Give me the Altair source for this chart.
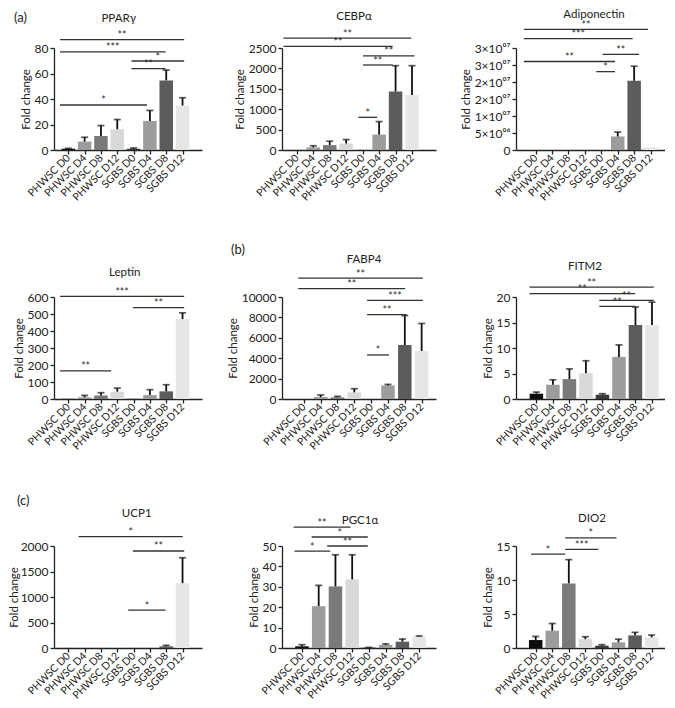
import altair as alt
import pandas as pd

groups = ["PHWSC D0", "PHWSC D4", "PHWSC D8", "PHWSC D12",
          "SGBS D0", "SGBS D4", "SGBS D8", "SGBS D12"]

# mean fold change and SD (upper error) per group
pparg_mean = [1.0, 6.6, 11.0, 16.3, 1.0, 22.8, 54.6, 34.9]
pparg_err = [0.3, 3.4, 8.2, 7.6, 0.6, 8.2, 8.1, 6.1]
cebpa_mean = [1, 64, 120, 160, 1, 377, 1434, 1346]
cebpa_err = [0, 40, 96, 96, 0, 320, 633, 721]
adipoq_mean = [1, 1, 1, 1, 1, 3.97e6, 2.036e7, 7.9e5]
adipoq_err = [0, 0, 0, 0, 0, 1.29e6, 4.28e6, 0]
leptin_mean = [1, 10, 21, 43, 1, 23, 45, 470]
leptin_err = [0, 11, 16, 21, 0, 32, 39, 37]
fabp4_mean = [1, 195, 162, 650, 1, 1331, 5292, 4708]
fabp4_err = [0, 195, 98, 356, 0, 99, 2890, 2695]
fitm2_mean = [1.04, 2.8, 3.9, 5.06, 0.84, 8.25, 14.5, 14.5]
fitm2_err = [0.32, 0.97, 2.0, 2.44, 0.2, 2.35, 3.55, 4.5]
ucp1_mean = [1, 1, 1, 1, 1, 1, 33, 1272]
ucp1_err = [0, 0, 0, 0, 0, 0, 19, 498]
pgc1a_mean = [0.82, 20.5, 30.2, 33.6, 0.2, 1.5, 3.1, 5.6]
pgc1a_err = [0.8, 10.2, 15.5, 12.1, 0.1, 0.5, 1.3, 0.3]
dio2_mean = [1.17, 2.54, 9.5, 1.3, 0.34, 0.83, 1.86, 1.56]
dio2_err = [0.53, 1.06, 3.5, 0.36, 0.15, 0.47, 0.44, 0.34]

# significance brackets: (from group index, to group index, level, label)
pparg_sig = [(-0.51, 7.1, 86.5, "**"), (-0.51, 5.96, 76.9, "***"),
             (3.87, 7.1, 69.8, "*"), (3.87, 5.96, 63.8, "**"),
             (-0.51, 4.82, 35.3, "*")]
cebpa_sig = [(-0.81, 6.96, 2740, "**"), (-0.81, 5.82, 2540, "**"),
             (4.02, 7.15, 2308, "**"), (4.02, 5.82, 2083, "**"),
             (3.74, 4.88, 801, "*")]
adipoq_sig = [(-0.72, 6.85, 3.546e7, "**"), (-0.72, 5.91, 3.278e7, "***"),
              (4.07, 6.3, 2.811e7, "**"), (-0.72, 4.83, 2.603e7, "**"),
              (3.69, 4.83, 2.305e7, "*")]
leptin_sig = [(-0.51, 7.1, 604, "***"), (3.96, 7.1, 538, "**"),
              (-0.51, 2.63, 166, "**")]
fabp4_sig = [(-0.33, 7.07, 11851, "**"), (-0.33, 6.02, 10812, "**"),
             (3.76, 7.07, 9675, "***"), (3.76, 6.11, 8279, "**"),
             (3.76, 5.06, 4318, "*")]
fitm2_sig = [(-0.42, 7.11, 21.95, "**"), (-0.42, 5.98, 20.65, "**"),
             (3.81, 7.11, 19.35, "**"), (3.81, 5.98, 18.18, "**")]
ucp1_sig = [(0.63, 7.01, 2184, "*"), (3.96, 7.1, 1902, "**"),
            (3.67, 5.96, 741, "*")]
pgc1a_sig = [(-0.5, 2.9, 59.3, "**"), (0.58, 3.93, 54.4, "*"),
             (1.51, 3.93, 50.0, "**"), (-0.45, 1.69, 47.5, "*")]
dio2_sig = [(1.78, 4.88, 16.2, "*"), (1.78, 3.79, 14.5, "***"),
            (-0.28, 1.78, 13.8, "*")]

adipoq_tick_labels = ["0", "5×10⁰⁶", "1×10⁰⁷", "2×10⁰⁷", "2×10⁰⁷", "3×10⁰⁷", "3×10⁰⁷"]

# ---- styles ----
bar_colors = ["#0d0d0d", "#9c9c9c", "#7a7a7a", "#d9d9d9",
              "#3a3a3a", "#9c9c9c", "#5c5c5c", "#e6e6e6"]
FONT = "Lato"
TXT = "#222222"
LINE = "#222222"
H = 102


def make_panel(title, means, errs, sig, ymax, ystep, xdom, width, tpos,
               ylabels=None, title_pad=3, letter=None):
    bars_df = pd.DataFrame({"group": groups, "xpos": list(range(len(groups))),
                            "yval": means, "err": errs})
    sig_df = pd.DataFrame(sig, columns=["xpos", "xend", "yval", "label"])
    sig_df["xmid"] = (sig_df["xpos"] + sig_df["xend"]) / 2

    n = int(round(ymax / ystep))
    yticks = [i * ystep for i in range(n + 1)]
    names = "[" + ",".join("'" + g + "'" for g in groups) + "]"

    xscale = alt.Scale(domain=xdom, nice=False, zero=False)
    yscale = alt.Scale(domain=[0, ymax], nice=False, zero=True)
    xaxis = alt.Axis(values=list(range(len(groups))),
                     labelExpr=names + "[round(datum.value)]",
                     title=None, labelAngle=-45, labelAlign="right",
                     labelBaseline="middle", labelFlush=False, labelOverlap=False,
                     grid=False, tickSize=4, labelPadding=2, labelFontSize=10.5,
                     labelFont=FONT, labelColor=TXT, domainColor=LINE,
                     tickColor=LINE, domainWidth=1.3, tickWidth=1.3)
    yargs = dict(values=yticks, title="Fold change", grid=False, tickSize=4,
                 labelPadding=2, labelFontSize=12, labelFont=FONT, labelColor=TXT,
                 labelFlush=False, labelOverlap=False,
                 titleFont=FONT, titleFontSize=11.5, titleFontWeight="normal",
                 titleColor=TXT, titlePadding=title_pad, domainColor=LINE,
                 tickColor=LINE, domainWidth=1.3, tickWidth=1.3)
    if ylabels is not None:
        arr = "[" + ",".join("'" + s + "'" for s in ylabels) + "]"
        yargs["labelExpr"] = arr + "[round(datum.value/" + str(ystep) + ")]"
    else:
        yargs["format"] = "d"
    yaxis = alt.Axis(**yargs)

    def X(f):
        return alt.X(f + ":Q", scale=xscale, axis=xaxis)

    def Y(f):
        return alt.Y(f + ":Q", scale=yscale, axis=yaxis)

    bars = alt.Chart(bars_df).mark_bar(size=13.5).encode(
        x=X("xpos"), y=Y("yval"),
        color=alt.Color("group:N", scale=alt.Scale(domain=groups, range=bar_colors),
                        legend=None))
    errbase = alt.Chart(bars_df).transform_filter("datum.err > 0").transform_calculate(
        top="datum.yval + datum.err")
    err = errbase.mark_rule(strokeWidth=1.8, color="#111111").encode(
        x=X("xpos"), y=Y("yval"), y2="top:Q")
    cap = errbase.mark_tick(orient="horizontal", size=7, thickness=1.7,
                            color="#111111").encode(x=X("xpos"), y=Y("top"))
    sigl = alt.Chart(sig_df).mark_rule(strokeWidth=1.3, color="#333333").encode(
        x=X("xpos"), x2="xend:Q", y=Y("yval"))
    sigt = alt.Chart(sig_df).mark_text(font=FONT, fontSize=10.5, color="#333333",
                                       baseline="alphabetic", dy=-0.5).encode(
        x=X("xmid"), y=Y("yval"), text="label:N")
    ttl = alt.Chart(pd.DataFrame({"t": [title]})).mark_text(
        font=FONT, fontSize=11.5, color=TXT, baseline="middle", align="center").encode(
        x=alt.value(tpos[0]), y=alt.value(tpos[1]), text="t:N")
    layers = [bars, err, cap, sigl, sigt, ttl]
    if letter is not None:
        lt = alt.Chart(pd.DataFrame({"t": [letter[0]]})).mark_text(
            font=FONT, fontSize=13, color=TXT, baseline="middle", align="center").encode(
            x=alt.value(letter[1]), y=alt.value(letter[2]), text="t:N")
        layers.append(lt)
    return alt.layer(*layers).properties(width=width, height=H)


W1, W2, W3 = 148, 154, 149

panels = [
    make_panel("PPARγ", pparg_mean, pparg_err, pparg_sig, 80, 20,
               [-0.571, 7.886], W1, (64.7, -29), letter=("(a)", -33.5, -30)),
    make_panel("CEBPα", cebpa_mean, cebpa_err, cebpa_sig, 2500, 500,
               [-0.597, 8.153], W2, (72, -31)),
    make_panel("Adiponectin", adipoq_mean, adipoq_err, adipoq_sig, 3e7, 5000000,
               [-0.892, 7.574], W3, (78, -33), ylabels=adipoq_tick_labels),
    make_panel("Leptin", leptin_mean, leptin_err, leptin_sig, 600, 100,
               [-0.571, 7.886], W1, (70.7, -24)),
    make_panel("FABP4", fabp4_mean, fabp4_err, fabp4_sig, 10000, 2000,
               [-1.0, 7.556], W2, (82, -37), letter=("(b)", -44, -47)),
    make_panel("FITM2", fitm2_mean, fitm2_err, fitm2_sig, 20, 5,
               [-0.932, 7.486], W3, (69, -30)),
    make_panel("UCP1", ucp1_mean, ucp1_err, ucp1_sig, 2000, 500,
               [-0.571, 7.886], W1, (82.7, -32), title_pad=1,
               letter=("(c)", -30.7, -45)),
    make_panel("PGC1α", pgc1a_mean, pgc1a_err, pgc1a_sig, 50, 10,
               [-0.894, 7.709], W2, (78, -25)),
    make_panel("DIO2", dio2_mean, dio2_err, dio2_sig, 15, 5,
               [-0.887, 7.507], W3, (76, -27)),
]

chart = alt.concat(*panels, columns=3, spacing={"row": 147, "column": 80},
                   bounds="flush").properties(
    padding={"left": 0, "top": 1, "right": 0, "bottom": 0}
).configure_view(stroke=None)

chart.save("out.html", embed_options={"renderer": "svg", "actions": False})
